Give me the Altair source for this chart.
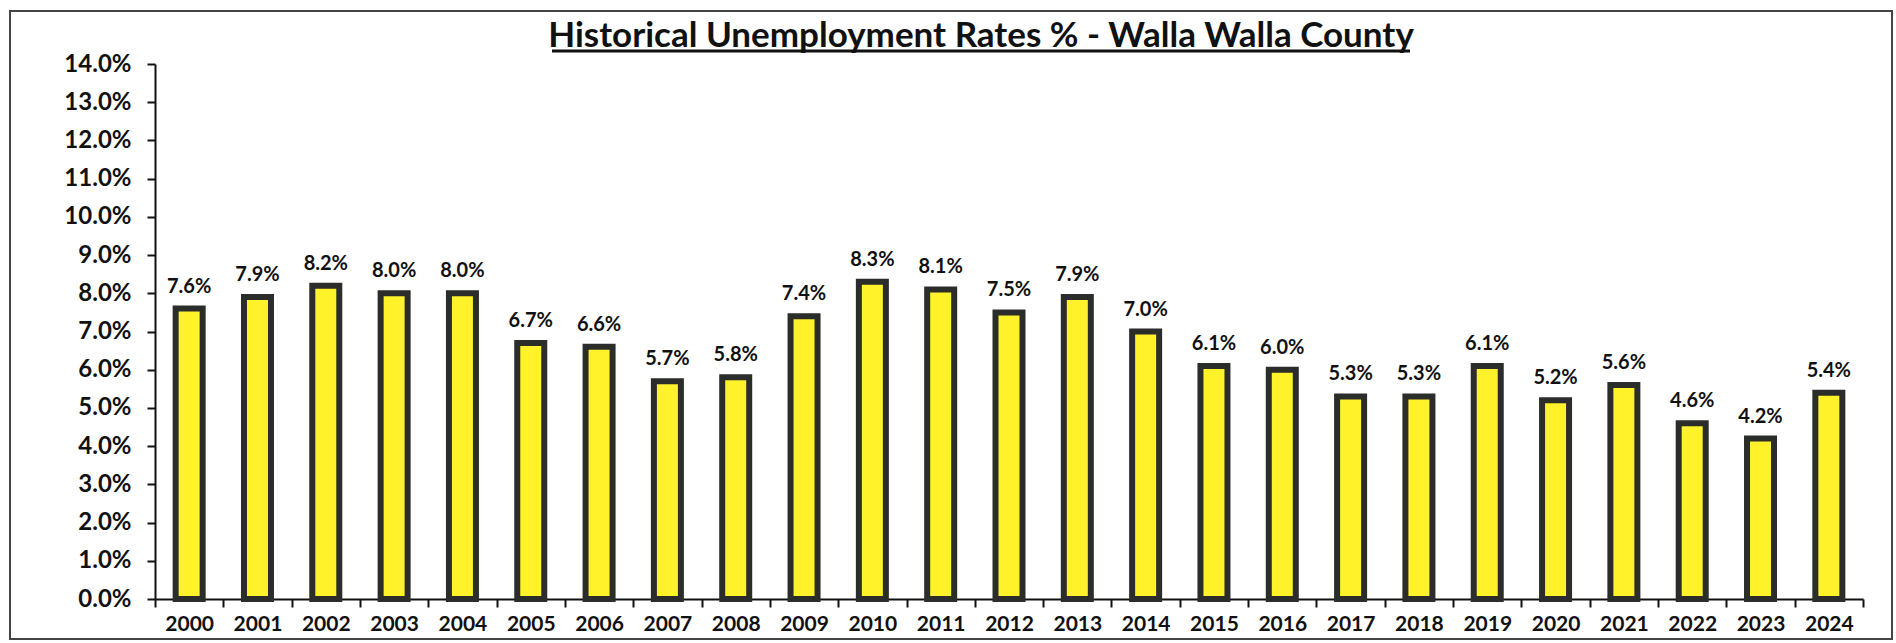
import altair as alt
import pandas as pd

years = [str(y) for y in range(2000, 2025)]
rates = [7.6, 7.9, 8.2, 8.0, 8.0, 6.7, 6.6, 5.7, 5.8, 7.4, 8.3, 8.1, 7.5, 7.9, 7.0,
         6.1, 6.0, 5.3, 5.3, 6.1, 5.2, 5.6, 4.6, 4.2, 5.4]
y_ticks = [0.0, 1.0, 2.0, 3.0, 4.0, 5.0, 6.0, 7.0, 8.0, 9.0, 10.0, 11.0, 12.0, 13.0, 14.0]
title_text = "Historical Unemployment Rates % - Walla Walla County"

df = pd.DataFrame({"year": years, "rate": [r / 100 for r in rates]})

W, H = 1708, 535
FONT = "Lato"

x = alt.X("year:N", sort=years, title=None,
          scale=alt.Scale(paddingInner=0, paddingOuter=0),
          axis=alt.Axis(labelAngle=0, labelFont=FONT, labelFontSize=21, labelFontWeight="bold",
                        labelColor="#111", domainColor="#111", domainWidth=2, tickColor="#111",
                        tickWidth=2, tickSize=8, tickBand="extent", labelPadding=6))
y = alt.Y("rate:Q", title=None,
          scale=alt.Scale(domain=[0, 0.14], nice=False),
          axis=alt.Axis(values=[v / 100 for v in y_ticks], format=".1%", grid=False,
                        labelOverlap=False,
                        labelFont=FONT, labelFontSize=24, labelFontWeight="bold", labelColor="#111",
                        domainColor="#111", domainWidth=2, tickColor="#111", tickWidth=2,
                        tickSize=8, labelPadding=16))

base = alt.Chart(df)
bars = base.mark_bar(size=27, color="#FFF22A", stroke="#2a2d2a", strokeWidth=6).encode(x=x, y=y)
labels = base.mark_text(dy=-22, font=FONT, fontSize=20, fontWeight="bold", color="#111").encode(
    x=x, y=y, text=alt.Text("rate:Q", format=".1%"))

title_df = pd.DataFrame({"t": [title_text]})
title = alt.Chart(title_df).mark_text(font=FONT, fontSize=35, fontWeight="bold", color="#111",
                                      baseline="alphabetic", align="center").encode(
    x=alt.value(826), y=alt.value(-17), text="t:N")
underline = alt.Chart(title_df).mark_rule(color="#111", strokeWidth=3).encode(
    x=alt.value(397), x2=alt.value(1255), y=alt.value(-13))
frame = alt.Chart(title_df).mark_rect(fill=None, stroke="#444", strokeWidth=2).encode(
    x=alt.value(-145), x2=alt.value(1737), y=alt.value(-53), y2=alt.value(40 + H))

chart = alt.layer(frame, bars, labels, title, underline).properties(
    width=W, height=H, padding={"left": 155, "top": 64, "right": 33, "bottom": 44},
    autosize=alt.AutoSizeParams(type="none"), background="white"
).configure_view(stroke=None)

chart.save("out.html", embed_options={"renderer": "svg", "actions": False})
